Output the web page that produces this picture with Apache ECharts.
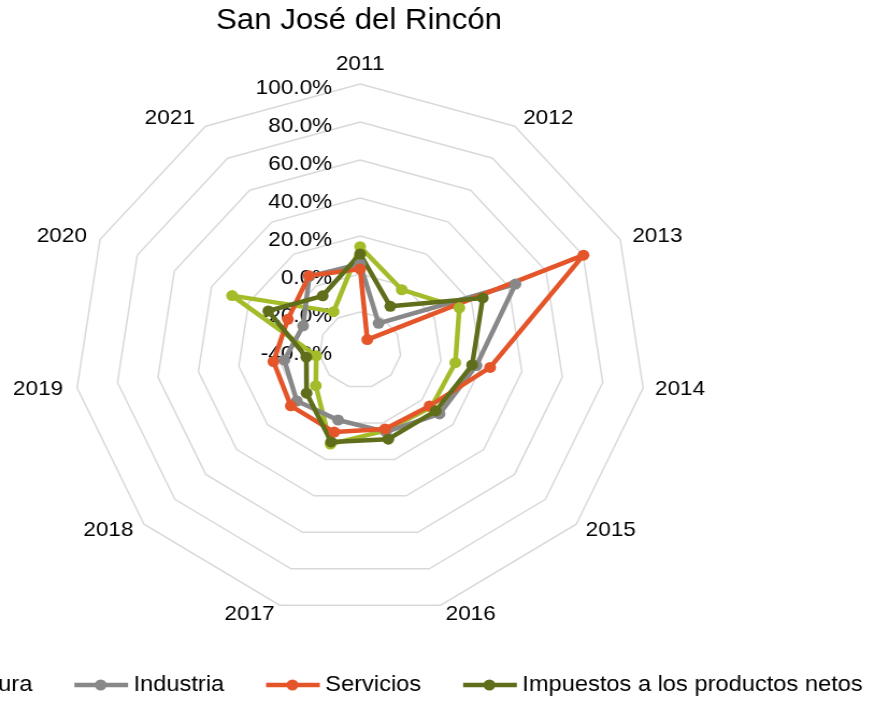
<!DOCTYPE html>
<html>
<head>
<meta charset="utf-8">
<script src="https://cdn.jsdelivr.net/npm/echarts@6/dist/echarts.min.js"></script>
<style>
  html, body { margin: 0; padding: 0; background: #fff; overflow: hidden; }
  /* the source picture is a bit wider than tall, so stretch the canvas the same way */
  #chart { width: 811px; height: 702px; transform: scaleX(1.075); transform-origin: 0 0; }
</style>
</head>
<body>
<div id="chart"></div>
<script>
// years on the radar axes, clockwise from the top
const years = ['2011', '2012', '2013', '2014', '2015', '2016', '2017', '2018', '2019', '2020', '2021'];

// growth rates in %
const agricultura = [14.4, -2.3, 13.4, 7.1, 6.0, 4.2, 11.6, -11.3, -18.3, 28.9, -16.0];
const industria = [5.3, -23.3, 43.6, 17.5, 11.4, 4.9, -1.6, 1.0, -2.5, -9.3, 6.0];
const servicios = [2.6, -33.5, 80.2, 24.3, 5.0, 3.3, 5.0, 4.9, 2.9, -1.1, 6.4];
const impuestos = [10.5, -12.7, 26.0, 15.4, 9.0, 8.9, 10.4, -5.3, -13.4, 9.4, -6.1];

const seriesNames = ['Agricultura', 'Industria', 'Servicios', 'Impuestos a los productos netos'];
const seriesColors = ['#a5bc2a', '#888888', '#e4552a', '#5f6e1a'];
const seriesValues = [agricultura, industria, servicios, impuestos];

// small nudges of the year labels [top, right, bottom, left]
const namePad = [
  [0, 0, 0, 0],
  [11, 0, 0, 3], [10, 0, 0, 3], [10, 0, 0, 2], [8, 0, 0, 2], [10, 0, 0, 2],
  [10, 2, 0, 0], [8, 3, 0, 0], [10, 4, 0, 0], [10, 4, 0, 0], [11, 5, 0, 0]
];

const FONT = 'Liberation Sans, Arial, sans-serif';
// legend icon: thick line with a dot in the middle
const legendIcon = 'path://M0,5L50,5L50,9.5L0,9.5Z M30,7.25A5.5,5.5 0 1 1 19,7.25A5.5,5.5 0 1 1 30,7.25Z';

// echarts radar goes counter-clockwise, so feed the axes in reverse after the first
const order = [0].concat(years.map((y, i) => i).slice(1).reverse());

const chart = echarts.init(document.getElementById('chart'));

const indicators = order.map((k) => {
  let ind = {
    name: years[k], min: -40, max: 100,
    nameTextStyle: { padding: namePad[k] }
  };
  if (k === 0) {
    ind.axisLabel = {
      show: true,
      fontSize: 21,
      fontFamily: FONT,
      color: '#000',
      margin: 26,
      formatter: (v) => '{p|' + v.toFixed(1) + '%}',
      rich: {
        p: { fontSize: 21, fontFamily: FONT, color: '#000', padding: [9, 0, 0, 0] }
      }
    };
  }
  return ind;
});

const option = {
  animation: false,
  title: {
    text: 'San José del Rincón',
    left: 329,
    top: 1,
    textAlign: 'center',
    textStyle: { fontSize: 29, fontWeight: 'normal', color: '#000', fontFamily: FONT }
  },
  legend: {
    data: seriesNames,
    left: -135,
    top: 669,
    width: 1200,
    icon: legendIcon,
    itemWidth: 50,
    itemHeight: 11,
    itemGap: 39,
    textStyle: { fontSize: 22, color: '#000', fontFamily: FONT }
  },
  radar: {
    center: [335, 350],
    radius: 266,
    startAngle: 90,
    splitNumber: 7,
    shape: 'polygon',
    indicator: indicators,
    axisName: { color: '#000', fontSize: 21, fontFamily: FONT },
    nameGap: 9,
    axisLine: { show: false },
    axisTick: { show: false },
    axisLabel: { show: false },
    splitArea: { show: false },
    splitLine: { lineStyle: { color: '#d9d9d9', width: 1.5 } }
  },
  series: [{
    type: 'radar',
    symbol: 'circle',
    symbolSize: 11,
    data: seriesNames.map((n, i) => ({
      name: n,
      value: order.map((k) => seriesValues[i][k]),
      lineStyle: { color: seriesColors[i], width: 4.5 },
      itemStyle: { color: seriesColors[i] }
    }))
  }]
};

chart.setOption(option);
</script>
</body>
</html>
